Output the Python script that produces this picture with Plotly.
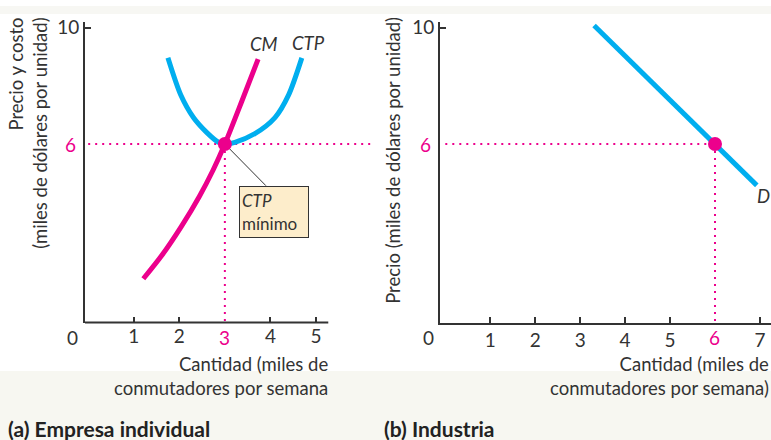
import plotly.graph_objects as go

# (a) empresa individual: curvas de costo
ctp_q = [1.75, 2.03, 2.31, 2.60, 2.86, 3.0, 3.22, 3.66, 4.10, 4.40, 4.69]
ctp_c = [8.96, 7.69, 6.91, 6.40, 6.06, 6.0, 6.06, 6.36, 6.91, 7.69, 8.96]
cm_q = [1.21, 1.61, 2.05, 2.44, 2.74, 3.0, 3.37, 3.73]
cm_c = [1.37, 2.16, 3.18, 4.20, 5.10, 6.0, 7.46, 8.92]

# (b) industria: demanda
d_q = [3.31, 6.93]
d_p = [10.07, 4.58]

precio = 6
q_empresa = 3
q_industria = 6

ticks_a = [1, 2, 4, 5]
ticks_b = [1, 2, 3, 4, 5, 7]

AZUL = "#00AEEF"
MAGENTA = "#EC008C"
GRIS = "#333333"
FONT = "Lato"
W, H = 771, 440


def px(x):
    return x / W


def py(y):
    return 1 - y / H


fig = go.Figure()

# líneas punteadas de referencia
dot = dict(color=MAGENTA, width=2, dash="2px,5px")
fig.add_trace(go.Scatter(x=[0, 6.25], y=[precio, precio], mode="lines", line=dot,
                         xaxis="x", yaxis="y"))
fig.add_trace(go.Scatter(x=[q_empresa, q_empresa], y=[precio, -0.14], mode="lines", line=dot,
                         xaxis="x", yaxis="y"))
fig.add_trace(go.Scatter(x=[0, q_industria], y=[precio, precio], mode="lines", line=dot,
                         xaxis="x2", yaxis="y2"))
fig.add_trace(go.Scatter(x=[q_industria, q_industria], y=[precio, -0.14], mode="lines", line=dot,
                         xaxis="x2", yaxis="y2"))

# curvas
fig.add_trace(go.Scatter(x=ctp_q, y=ctp_c, mode="lines",
                         line=dict(color=AZUL, width=5, shape="spline", smoothing=0.8),
                         xaxis="x", yaxis="y"))
fig.add_trace(go.Scatter(x=cm_q, y=cm_c, mode="lines",
                         line=dict(color=MAGENTA, width=5, shape="spline", smoothing=0.8),
                         xaxis="x", yaxis="y"))
fig.add_trace(go.Scatter(x=d_q, y=d_p, mode="lines", line=dict(color=AZUL, width=5),
                         xaxis="x2", yaxis="y2"))

# línea guía hacia la caja "CTP mínimo"
fig.add_trace(go.Scatter(x=[q_empresa, 3.9], y=[precio, 4.57], mode="lines",
                         line=dict(color=GRIS, width=1), xaxis="x", yaxis="y"))

# puntos de equilibrio
fig.add_trace(go.Scatter(x=[q_empresa], y=[precio], mode="markers",
                         marker=dict(color=MAGENTA, size=14), xaxis="x", yaxis="y"))
fig.add_trace(go.Scatter(x=[q_industria], y=[precio], mode="markers",
                         marker=dict(color=MAGENTA, size=14), xaxis="x2", yaxis="y2"))

ydom = [py(321), py(16)]
yrange = [-0.136, 10.2]
tickfont = dict(family=FONT, size=19, color=GRIS)

axis_common = dict(showgrid=False, zeroline=False, fixedrange=True, tickfont=tickfont,
                   tickcolor=GRIS, tickwidth=1.5, ticklen=6, ticks="inside")

fig.update_layout(
    width=W, height=H,
    margin=dict(l=0, r=0, t=0, b=0),
    paper_bgcolor="white", plot_bgcolor="rgba(0,0,0,0)",
    showlegend=False,
    font=dict(family=FONT, size=18.5, color=GRIS),
    xaxis=dict(domain=[px(85), px(372)], range=[-0.07, 6.23], tickvals=ticks_a,
               showline=False, anchor="y", **axis_common),
    yaxis=dict(domain=ydom, range=yrange, tickvals=[10], showline=True, linecolor=GRIS,
               linewidth=2, anchor="x", **axis_common),
    xaxis2=dict(domain=[px(440), 1.0], range=[-0.118, 7.246], tickvals=ticks_b,
                showline=True, linecolor=GRIS, linewidth=2, anchor="y2", **axis_common),
    yaxis2=dict(domain=ydom, range=yrange, tickvals=[10], showline=True, linecolor=GRIS,
                linewidth=2, anchor="x2", **axis_common),
)

# franjas de fondo y eje x del panel (a)
fig.add_shape(type="rect", xref="paper", yref="paper", x0=0, x1=1, y0=0, y1=py(370),
              fillcolor="#F7F7F1", line_width=0, layer="below")
fig.add_shape(type="rect", xref="paper", yref="paper", x0=0, x1=1, y0=py(8), y1=1,
              fillcolor="#F7F7F3", line_width=0, layer="below")
fig.add_shape(type="line", xref="x", yref="y domain", x0=-0.07, x1=5.27, y0=0, y1=0,
              line=dict(color=GRIS, width=2))

ann = []
lab_y = py(336)
mid = dict(showarrow=False, xanchor="center", yanchor="middle")
ann.append(dict(x=px(72), y=lab_y, xref="paper", yref="paper", text="0",
                font=dict(size=19), **mid))
ann.append(dict(x=px(428), y=lab_y, xref="paper", yref="paper", text="0",
                font=dict(size=19), **mid))
ann.append(dict(x=q_empresa, y=lab_y, xref="x", yref="paper", text="3",
                font=dict(size=19, color=MAGENTA), **mid))
ann.append(dict(x=q_industria, y=lab_y, xref="x2", yref="paper", text="6",
                font=dict(size=19, color=MAGENTA), **mid))
ann.append(dict(x=px(85), y=precio, xref="paper", yref="y", text="6", showarrow=False,
                xanchor="right", yanchor="middle", xshift=-7, font=dict(size=19, color=MAGENTA)))
ann.append(dict(x=px(440), y=precio, xref="paper", yref="y2", text="6", showarrow=False,
                xanchor="right", yanchor="middle", xshift=-7, font=dict(size=19, color=MAGENTA)))

# etiquetas de curvas
ann.append(dict(x=3.85, y=9.45, xref="x", yref="y", text="<i>CM</i>", **mid))
ann.append(dict(x=4.83, y=9.46, xref="x", yref="y", text="<i>CTP</i>", **mid))
ann.append(dict(x=7.07, y=4.22, xref="x2", yref="y2", text="<i>D</i>", **mid))

# caja CTP mínimo
ann.append(dict(x=3.31, y=4.57, xref="x", yref="y", xanchor="left", yanchor="top",
                text="<i>CTP</i><br>mínimo", showarrow=False, align="left",
                width=64, height=46, borderpad=2, borderwidth=1, bordercolor=GRIS,
                bgcolor="#FDEDCB", font=dict(size=17)))

# títulos de ejes
ann.append(dict(x=px(28.5), y=py(129), xref="paper", yref="paper", textangle=-90,
                text="Precio y costo<br>(miles de dólares por unidad)", align="right", **mid))
ann.append(dict(x=px(393), y=py(157), xref="paper", yref="paper", textangle=-90,
                text="Precio (miles de dólares por unidad)", **mid))
ann.append(dict(x=px(330), y=py(350), xref="paper", yref="paper", xanchor="right", yanchor="top",
                text="Cantidad (miles de<br>conmutadores por semana", showarrow=False,
                align="right"))
ann.append(dict(x=px(771), y=py(350), xref="paper", yref="paper", xanchor="right", yanchor="top",
                text="Cantidad (miles de<br>conmutadores por semana)", showarrow=False,
                align="right"))

# rótulos de paneles
ann.append(dict(x=px(6), y=py(428), xref="paper", yref="paper", xanchor="left", yanchor="middle",
                text="<b>(a) Empresa individual</b>", showarrow=False,
                font=dict(size=21, color="#222222")))
ann.append(dict(x=px(382), y=py(428), xref="paper", yref="paper", xanchor="left", yanchor="middle",
                text="<b>(b) Industria</b>", showarrow=False,
                font=dict(size=21, color="#222222")))

fig.update_layout(annotations=ann)

fig.write_html("out.html", config={"displayModeBar": False},
               post_script="document.body.style.margin = '0';")
